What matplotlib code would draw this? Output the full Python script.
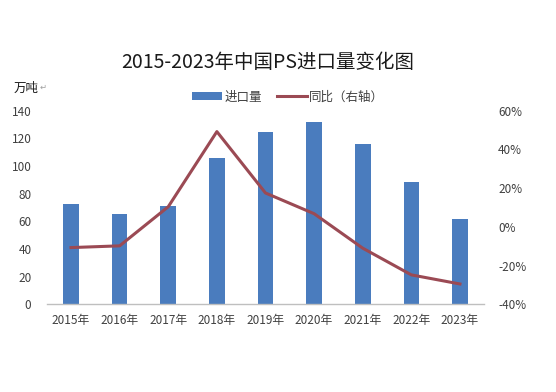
import matplotlib
matplotlib.use("Agg")
import matplotlib.pyplot as plt
from matplotlib.patches import Patch
from matplotlib.lines import Line2D
from matplotlib.ticker import FuncFormatter

plt.rcParams['font.family'] = ['Noto Sans CJK SC', 'DejaVu Sans']

years = ["2015年", "2016年", "2017年", "2018年", "2019年", "2020年", "2021年", "2022年", "2023年"]
imports = [72.5, 65.3, 71.0, 106.0, 124.4, 132.0, 116.0, 88.4, 62.0]  # 万吨
yoy = [-10.7, -9.8, 10.4, 49.2, 17.5, 6.8, -11.0, -24.8, -29.5]  # %

bar_color = "#4A7CBE"
line_color = "#9B4A54"
text_color = "#404040"

fig = plt.figure(figsize=(5.56, 3.92), dpi=100)
ax = fig.add_axes([0.084, 0.2237, 0.787, 0.4939])
ax2 = ax.twinx()

x = list(range(len(years)))
ax.bar(x, imports, width=0.32, color=bar_color, zorder=2)
ax2.plot(x, yoy, color=line_color, linewidth=2.2, zorder=3)

ax.set_xlim(-0.5, len(years) - 0.5)
ax.set_ylim(0, 140)
ax.set_yticks(range(0, 141, 20))
ax2.set_ylim(-40, 60)
ax2.set_yticks(range(-40, 61, 20))
ax2.yaxis.set_major_formatter(FuncFormatter(lambda v, p: f"{v:.0f}%"))

ax.set_xticks(x)
ax.set_xticklabels(years)

for a in (ax, ax2):
    for s in a.spines.values():
        s.set_visible(False)
ax.spines['bottom'].set_visible(True)
ax.spines['bottom'].set_color("#BFBFBF")
ax.spines['bottom'].set_linewidth(1.0)

ax.tick_params(axis='x', length=0, pad=7, labelsize=8.5, labelcolor=text_color)
ax.tick_params(axis='y', length=0, pad=11, labelsize=8.5, labelcolor=text_color)
ax2.tick_params(axis='y', length=0, pad=10, labelsize=8.5, labelcolor=text_color)

ax.set_zorder(1)
ax2.set_zorder(2)
ax2.patch.set_visible(False)

fig.text(0.482, 1 - 62 / 392, "2015-2023年中国PS进口量变化图", ha='center', va='center',
         fontsize=14, color="#1a1a1a")
fig.text(14 / 556, 1 - 88 / 392, "万吨", ha='left', va='center', fontsize=9, color="#1a1a1a")
fig.text(40 / 556, 1 - 87 / 392, "↵", ha='left', va='center', fontsize=6, color="#A0A0A0",
         family=['DejaVu Sans'])

handles = [Patch(facecolor=bar_color, edgecolor='none'),
           Line2D([0], [0], color=line_color, linewidth=2.2)]
fig.legend(handles, ["进口量", "同比（右轴）"], loc='center', ncol=2,
           bbox_to_anchor=(288 / 556, 1 - 97 / 392), frameon=False, fontsize=9,
           handlelength=2.4, handleheight=0.6, handletextpad=0.2, columnspacing=1.2,
           labelcolor=text_color)

fig.savefig("out.png", dpi=100, facecolor='white')
